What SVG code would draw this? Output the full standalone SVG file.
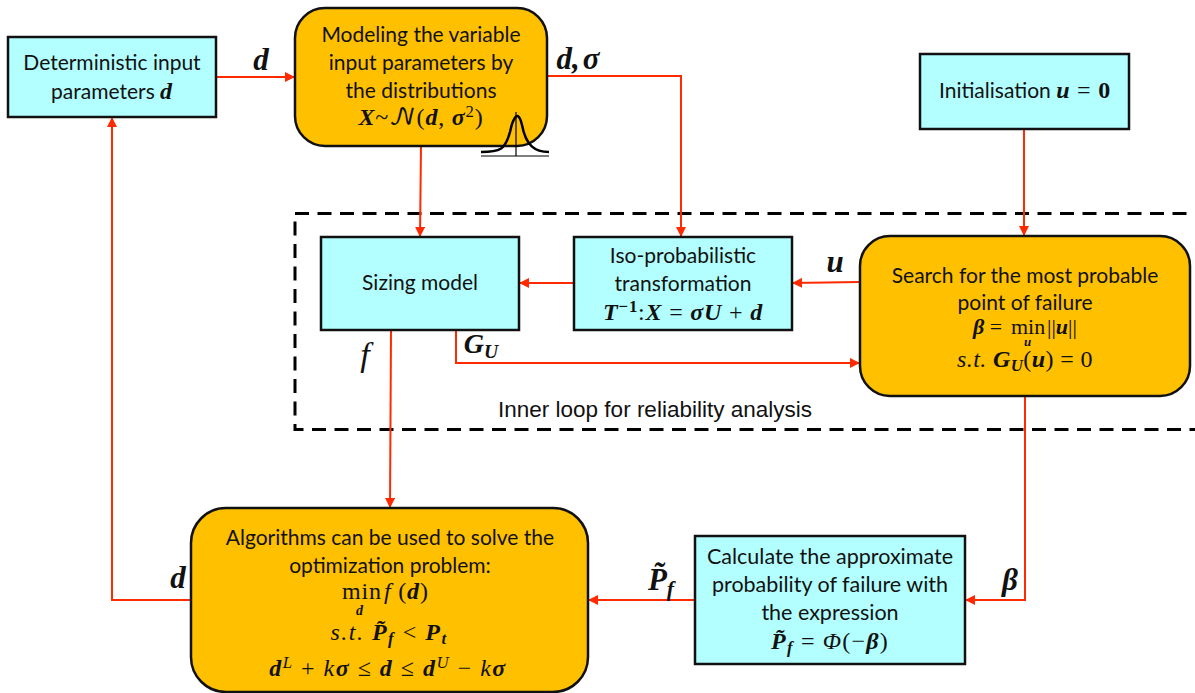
<svg xmlns="http://www.w3.org/2000/svg" width="1195" height="693" viewBox="0 0 1195 693">
<style>
.c{fill:#b3ffff;stroke:#111;stroke-width:2.5}
.o{fill:#ffc000;stroke:#111;stroke-width:2.5}
text{font-family:"Lato","Open Sans",sans-serif;font-size:21px;fill:#111;text-anchor:middle}
.m{font-family:"Liberation Serif",serif;font-size:24px;letter-spacing:.8px}
.b{font-weight:bold;font-style:italic}
.i{font-style:italic}
.l{font-family:"Liberation Serif",serif;font-size:31px;font-weight:bold;font-style:italic}
.s{font-size:70%}
.u{font-size:14px}
.w{fill:none;stroke:#ff2a00;stroke-width:2}
</style>
<defs>
<marker id="a" markerUnits="userSpaceOnUse" markerWidth="11" markerHeight="10" refX="10" refY="5" orient="auto"><path d="M0 0L10 5L0 10Z" fill="#ff2a00"/></marker>
</defs>
<rect x="295" y="213.500" width="920" height="216" fill="none" stroke="#000" stroke-width="3" stroke-dasharray="14 8.500"/>
<text x="655" y="417" style="font-family:'Liberation Sans',sans-serif;font-size:22.500px">Inner loop for reliability analysis</text>
<g id="connectors">
<path class="w" marker-end="url(#a)" d="M216 77H295"/>
<path class="w" marker-end="url(#a)" d="M547 76H681V237"/>
<path class="w" marker-end="url(#a)" d="M421 146L420 237"/>
<path class="w" marker-end="url(#a)" d="M1024 129V236"/>
<path class="w" marker-end="url(#a)" d="M860 282L792 283"/>
<path class="w" marker-end="url(#a)" d="M574 283H519"/>
<path class="w" marker-end="url(#a)" d="M391 330L390 508"/>
<path class="w" marker-end="url(#a)" d="M456 330V363H860"/>
<path class="w" marker-end="url(#a)" d="M1025 396V600H965"/>
<path class="w" marker-end="url(#a)" d="M695 600H588"/>
<path class="w" marker-end="url(#a)" d="M191 600H112V117"/>
</g>
<g id="deterministic"><rect class="c" x="8" y="37" width="208" height="80"/>
<text x="112" y="70">Deterministic input</text><text x="112" y="99">parameters <tspan class="m b">d</tspan></text></g>
<g id="modeling"><rect class="o" x="295" y="8" width="252" height="138" rx="30"/>
<text x="421" y="42">Modeling the variable</text><text x="421" y="70">input parameters by</text><text x="421" y="98">the distributions</text>
<text class="m" x="421" y="125"><tspan class="b">X</tspan>~<tspan style="font-family:'DejaVu Math TeX Gyre','DejaVu Serif',serif">𝒩</tspan>(<tspan class="b">d</tspan>, <tspan class="b">σ</tspan><tspan class="s" dy="-8">2</tspan><tspan dy="8">)</tspan></text>
<path d="M481 152C500 152 505 150 510 132C513 118 518 108 522 125C526 146 535 152 549 152" fill="none" stroke="#000" stroke-width="2.500"/>
<path d="M481 156H549M516 112V156" fill="none" stroke="#000" stroke-width="1.200"/></g>
<g id="init"><rect class="c" x="920" y="54" width="209" height="75"/>
<text x="1025" y="98">Initialisation <tspan class="m b">u</tspan><tspan class="m"> = </tspan><tspan class="m" font-weight="bold">0</tspan></text></g>
<g id="sizing"><rect class="c" x="321" y="237" width="198" height="93"/><text x="420" y="290">Sizing model</text></g>
<g id="iso"><rect class="c" x="574" y="237" width="218" height="93"/>
<text x="683" y="263">Iso-probabilistic</text><text x="683" y="291">transformation</text>
<text class="m" x="683" y="320"><tspan class="b">T</tspan><tspan class="s" dy="-8" font-weight="bold">−1</tspan><tspan dy="8">:</tspan><tspan class="b">X</tspan> = <tspan class="b">σU</tspan> + <tspan class="b">d</tspan></text></g>
<g id="search"><rect class="o" x="860" y="236" width="330" height="160" rx="30"/>
<text x="1025" y="283">Search for the most probable</text><text x="1025" y="310">point of failure</text>
<text class="m" x="973" y="334" style="text-anchor:start;font-size:22px;letter-spacing:0"><tspan class="b">β</tspan> = <tspan x="1011">min</tspan><tspan x="1047">||</tspan><tspan class="b">u</tspan>||</text>
<text class="m b" x="1028" y="346" style="font-size:13px">u</text>
<text class="m" x="1025" y="367" style="letter-spacing:.4px"><tspan class="i">s.t.</tspan>   <tspan class="b">G</tspan><tspan class="b s" dy="4">U</tspan><tspan dy="-4">(</tspan><tspan class="b">u</tspan>) = 0</text></g>
<g id="algorithms"><rect class="o" x="191" y="508" width="397" height="184" rx="35"/>
<text x="390" y="545">Algorithms can be used to solve the</text><text x="390" y="573">optimization problem:</text>
<text class="m" x="342" y="599" style="text-anchor:start">min<tspan x="384" class="i">f</tspan> (<tspan class="b">d</tspan>)</text>
<text class="m b u" x="360" y="615">d</text>
<text class="m" x="389" y="640" style="letter-spacing:1.500px"><tspan class="i">s.t.</tspan> <tspan class="b">P̃</tspan><tspan class="b s" dy="4">f</tspan><tspan dy="-4"> &lt; </tspan><tspan class="b">P</tspan><tspan class="b s" dy="4">t</tspan></text>
<text class="m" x="388" y="676" style="letter-spacing:1.500px"><tspan class="b">d</tspan><tspan class="i s" dy="-8">L</tspan><tspan dy="8"> + </tspan><tspan class="i">k</tspan><tspan class="b">σ</tspan> ≤ <tspan class="b">d</tspan> ≤ <tspan class="b">d</tspan><tspan class="i s" dy="-8">U</tspan><tspan dy="8"> − </tspan><tspan class="i">k</tspan><tspan class="b">σ</tspan></text></g>
<g id="calculate"><rect class="c" x="695" y="536" width="270" height="128"/>
<text x="830" y="564" style="font-size:21.500px">Calculate the approximate</text><text x="830" y="592" style="font-size:21.500px">probability of failure with</text><text x="830" y="620" style="font-size:21.500px">the expression</text>
<text class="m" x="830" y="649" style="letter-spacing:1.200px"><tspan class="b">P̃</tspan><tspan class="b s" dy="4">f</tspan><tspan dy="-4"> = </tspan><tspan class="i">Φ</tspan>(−<tspan class="b">β</tspan>)</text></g>
<g id="labels">
<text class="l" x="261" y="70">d</text>
<text class="l" x="578" y="69">d,<tspan dx="3">σ</tspan></text>
<text class="l" x="835" y="272">u</text>
<text class="l" x="365" y="366" style="font-weight:normal;font-size:34px">f</text>
<text class="l" x="481" y="353" style="font-size:28px">G<tspan class="s" dy="5">U</tspan></text>
<text class="l" x="1010" y="590">β</text>
<text class="l" x="178" y="588">d</text>
<text class="l" x="661" y="590" style="font-size:31px">P̃<tspan class="s" dy="6">f</tspan></text>
</g>
</svg>
